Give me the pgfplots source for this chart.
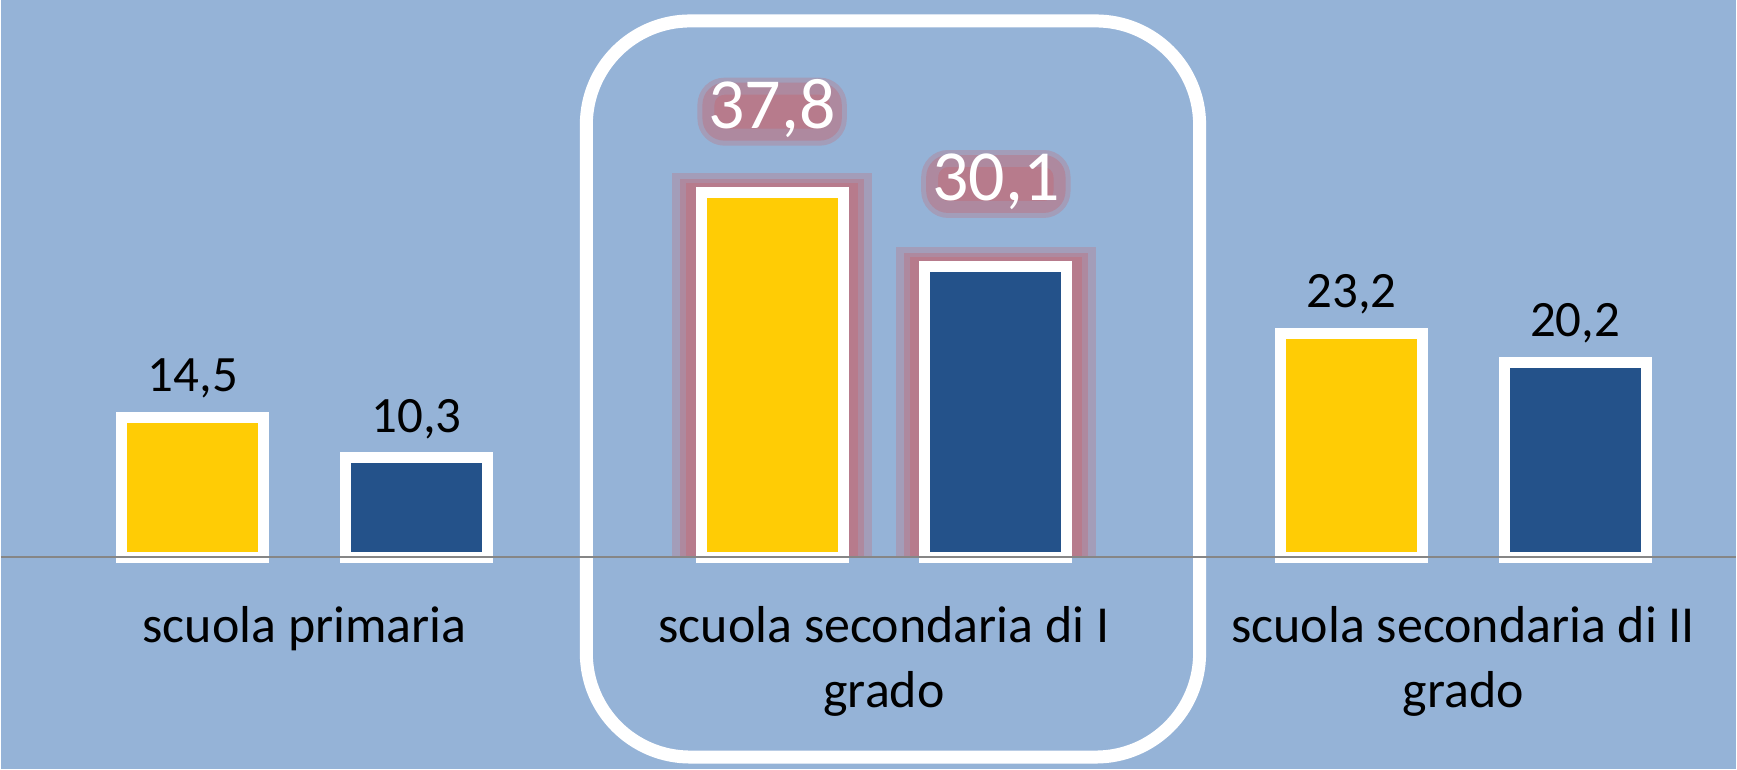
\documentclass[border=0pt]{standalone}
\usepackage{pgfplots}
\pgfplotsset{compat=1.18}
\usepackage{fontspec}
\setmainfont{Carlito}

\definecolor{bgc}{HTML}{95B3D7}
\definecolor{yellowc}{HTML}{FFCC05}
\definecolor{bluec}{HTML}{24528A}
\definecolor{glowc}{HTML}{B77B8C}
\definecolor{linec}{HTML}{868686}

\tikzset{
  halo label/.style={font=\fontsize{36}{40}\selectfont, text=white,
    anchor=base, text height=20pt, text depth=3pt, inner xsep=0pt, inner ysep=0pt,
    fill=glowc, rounded corners=8pt,
    draw=glowc!75!bgc, line width=6pt,
    preaction={draw=glowc!40!bgc, line width=11pt}},
  plain label/.style={font=\fontsize{25.5}{30}\selectfont, text=black,
    anchor=base, inner sep=0pt, yshift=12.8pt},
  halo/.style={fill=#1, draw=none},
}

\begin{document}
\begin{tikzpicture}
\begin{axis}[
  width=868.5pt, height=385pt, scale only axis,
  xmin=-0.52414, xmax=2.47069,
  ymin=-21.95, ymax=57.76,
  axis x line*=middle, axis y line=none,
  x axis line style={draw=linec, line width=1pt},
  axis background/.style={fill=bgc},
  axis on top, clip=false,
  ybar, bar width=71pt,
  xtick={0,1,2},
  xticklabels={scuola primaria,{scuola secondaria di I\\grado},{scuola secondaria di II\\grado}},
  xtick style={draw=none}, major tick length=0pt,
  xticklabel style={font=\fontsize{26}{32.5}\selectfont, align=center,
    anchor=north, inner sep=0pt, yshift=-24.5pt},
  ytick=\empty,
  /pgf/number format/.cd, use comma, fixed, fixed zerofill, precision=1,
    assume math mode=true,
]
% soft halo behind the highlighted bars (outer, middle, inner layer)
\addplot[halo=glowc!40!bgc, bar width=100pt, bar shift=-56pt] coordinates {(1,37.8)};
\addplot[halo=glowc!40!bgc, bar width=100pt, bar shift=-56pt, yshift=10pt] coordinates {(1,37.8)};
\addplot[halo=glowc!40!bgc, bar width=100pt, bar shift=56pt] coordinates {(1,30.1)};
\addplot[halo=glowc!40!bgc, bar width=100pt, bar shift=56pt, yshift=10pt] coordinates {(1,30.1)};
\addplot[halo=glowc!75!bgc, bar width=92pt, bar shift=-56pt] coordinates {(1,37.8)};
\addplot[halo=glowc!75!bgc, bar width=92pt, bar shift=-56pt, yshift=7pt] coordinates {(1,37.8)};
\addplot[halo=glowc!75!bgc, bar width=92pt, bar shift=56pt] coordinates {(1,30.1)};
\addplot[halo=glowc!75!bgc, bar width=92pt, bar shift=56pt, yshift=7pt] coordinates {(1,30.1)};
\addplot[halo=glowc, bar width=86pt, bar shift=-56pt] coordinates {(1,37.8)};
\addplot[halo=glowc, bar width=86pt, bar shift=-56pt, yshift=5pt] coordinates {(1,37.8)};
\addplot[halo=glowc, bar width=86pt, bar shift=56pt] coordinates {(1,30.1)};
\addplot[halo=glowc, bar width=86pt, bar shift=56pt, yshift=5pt] coordinates {(1,30.1)};

% regular bars
\addplot[fill=yellowc, draw=white, line width=5.5pt, bar shift=-56pt,
  nodes near coords, every node near coord/.append style={plain label}]
  coordinates {(0,14.5) (2,23.2)};
\addplot[fill=bluec, draw=white, line width=5.5pt, bar shift=56pt,
  nodes near coords, every node near coord/.append style={plain label}]
  coordinates {(0,10.3) (2,20.2)};

% highlighted bars
\addplot[fill=yellowc, draw=white, line width=5.5pt, bar shift=-56pt,
  nodes near coords, every node near coord/.append style={halo label, yshift=32pt}]
  coordinates {(1,37.8)};
\addplot[fill=bluec, draw=white, line width=5.5pt, bar shift=56pt,
  nodes near coords, every node near coord/.append style={halo label, yshift=33pt}]
  coordinates {(1,30.1)};

\draw[white, line width=6.5pt, rounded corners=52pt]
  (axis cs:0.4862,-20.70) rectangle (axis cs:1.5448,55.59);
\end{axis}
\end{tikzpicture}
\end{document}
